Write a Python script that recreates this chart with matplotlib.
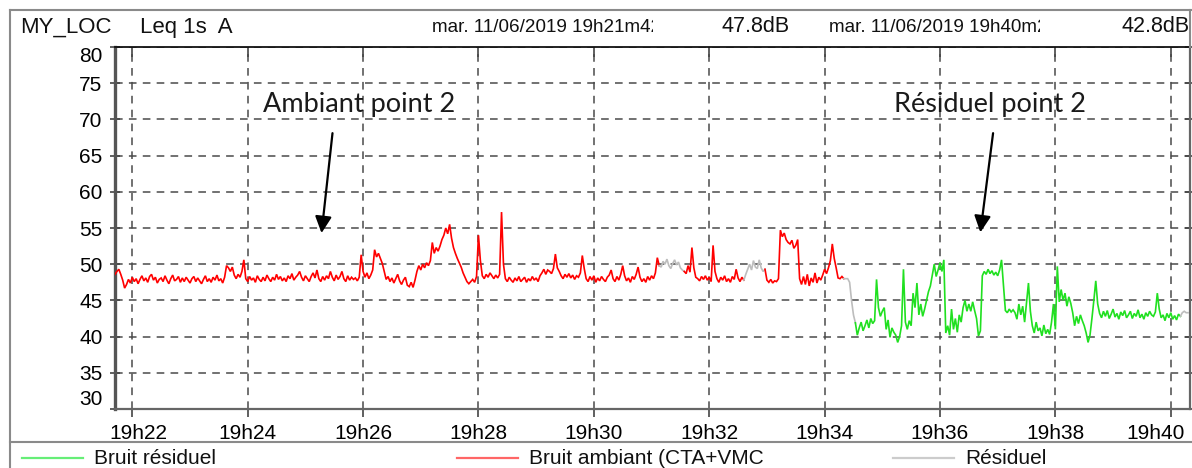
import matplotlib
matplotlib.use("Agg")
import matplotlib.pyplot as plt
from matplotlib.lines import Line2D
from matplotlib.ticker import FixedLocator, FuncFormatter
from matplotlib.transforms import Bbox, TransformedBbox, ScaledTranslation
import numpy as np

# --- data -------------------------------------------------------------
START_MIN = 21 + 42 / 60      # 19h21m42
END_MIN = 40 + 20 / 60        # 19h40m20
STEP_S = 2                    # one value every 2 s

# Leq 1s A (dB), one value every STEP_S seconds from START_MIN
leq = [
    48.6, 49.0, 49.3, 48.6, 47.8, 46.7, 47.2,
    47.9, 47.4, 48.2, 47.6, 48.0, 47.3, 47.9, 48.4, 47.7, 48.1,
    47.5, 48.3, 48.6, 47.8, 48.2, 47.4, 47.9, 48.1, 47.6, 48.4,
    47.8, 47.3, 48.0, 48.5, 47.7, 47.9, 48.3, 47.5, 48.1, 47.6,
    48.2, 47.8, 47.4, 48.0, 48.3, 47.6, 48.1, 47.7, 47.3, 47.9,
    48.4, 47.6, 48.0, 47.5, 48.2, 47.8, 48.5, 47.7, 48.0, 47.4, 48.2,
    49.8, 49.5, 49.0, 49.6,
    48.5, 48.0, 48.6, 48.2, 49.0, 50.6,
    48.0, 47.6, 48.3, 47.8, 48.1, 47.5, 48.4, 47.9, 47.6, 48.2,
    47.7, 48.5, 48.0, 47.6, 48.2, 47.8, 48.6, 47.9, 48.3, 47.7,
    48.1, 47.6, 48.4, 48.0, 48.7, 47.8, 48.2, 48.5,
    49.0,
    48.2, 47.7, 48.4, 48.0, 47.6, 48.3, 48.8, 48.1,
    49.2,
    48.0, 47.6, 48.3, 47.8, 48.4, 48.0,
    49.0,
    48.2, 47.7, 48.5, 47.9, 48.3,
    49.0,
    48.0, 47.6, 48.4, 47.8, 48.2, 47.9, 48.1, 47.7, 48.2,
    51.3, 49.0,
    48.2, 48.8, 48.0, 48.5, 49.2,
    52.0, 51.0, 51.5, 50.8, 50.1, 49.0,
    47.9, 48.3, 47.6, 48.1, 47.4, 48.0, 48.6, 47.7, 47.2, 47.8,
    48.2, 47.1, 46.9, 47.5, 46.8,
    47.8,
    49.0, 49.8, 49.2, 50.0, 49.5, 50.2, 49.8, 50.5,
    53.0, 51.5, 52.3, 51.8, 52.5, 53.4, 54.0, 55.0, 54.2, 55.5,
    53.6, 52.3, 51.5, 50.8, 50.2, 49.6, 48.8, 48.2, 47.6, 47.3,
    47.6, 47.9, 47.5, 48.3, 54.0, 50.5, 48.4,
    48.0, 48.6, 48.2, 48.8, 48.4, 48.0, 48.5, 48.1,
    48.6, 57.2, 50.0, 48.0,
    47.6, 48.2, 47.8, 47.5, 48.1, 47.7, 48.3, 47.6, 47.9, 48.2,
    47.5, 48.0, 47.7, 48.3, 47.8, 48.1, 47.6, 48.4,
    48.8, 49.3, 48.6, 49.2, 49.0, 48.7, 49.4, 51.4, 49.5, 49.0,
    48.4, 48.0, 48.6, 48.2, 48.7, 48.1, 48.5, 47.9, 48.4, 48.2,
    48.8, 51.2, 49.4,
    48.0, 47.6, 48.3, 47.8, 48.4, 47.5, 48.1, 47.7, 48.3, 47.9,
    47.6, 48.2, 48.5, 49.2, 48.0, 47.6, 48.3, 47.8, 48.6, 49.8,
    48.4, 47.7, 48.1, 47.5, 48.3, 47.9, 48.6, 49.6, 48.2, 47.6,
    48.0, 47.5, 48.3, 47.8, 48.4, 48.0, 48.8,
    50.9, 49.8,
    49.6, 50.4, 50.0, 50.7, 49.8, 49.4, 50.1, 50.6, 49.9, 50.3,
    49.5, 49.2, 49.0,
    48.7, 49.8, 48.9, 52.3, 49.5, 48.2,
    48.0, 47.7, 48.3, 47.9, 48.4, 47.8, 48.2, 47.6,
    52.6, 49.0, 48.0,
    47.5, 48.2, 47.8, 48.4, 47.6, 48.0, 47.5, 48.3, 47.9, 49.3,
    48.1, 47.6, 48.2, 47.8,
    48.6, 49.3, 50.0, 49.2, 50.5, 49.6, 49.4, 50.6, 49.5, 49.0, 49.3,
    47.8, 47.5, 47.9, 47.4, 47.7, 47.6, 48.0,
    54.7, 53.8, 54.3, 53.4, 53.0, 52.8, 53.3, 52.2, 52.6, 53.4,
    48.0, 47.2,
    48.3, 47.2, 48.6, 47.0, 48.1, 47.5, 48.8, 47.4, 48.2, 47.8, 48.5,
    49.3, 48.7, 49.5,
    50.5, 52.8, 50.8, 49.5,
    48.1, 48.0, 48.3, 48.0,
    48.0, 48.0, 47.5, 45.0, 43.0, 41.9,
    40.2, 41.2, 42.0, 40.8, 41.5, 42.3, 41.2, 42.5, 41.8, 42.2,
    47.9, 44.0, 42.8, 43.5,
    44.0, 41.0, 42.3, 39.9, 41.2, 40.6, 40.2, 39.2, 40.0,
    41.5, 49.3, 42.0, 41.0, 42.2, 41.5,
    46.0, 44.0, 47.4, 43.0, 44.5, 42.8, 43.8,
    45.0, 46.2, 47.0, 48.5, 50.0, 48.3, 49.2, 50.2, 49.0, 50.6, 40.5,
    41.5, 40.2, 43.8, 41.0, 42.5, 40.6, 43.0, 42.0,
    44.0, 45.0, 43.5, 44.5, 43.5, 44.8, 43.6,
    42.5, 40.1, 40.8,
    48.4, 49.0, 48.6, 49.3, 48.7, 49.1, 48.5, 48.9, 48.4,
    49.2, 50.6, 47.0,
    43.6, 43.3, 43.8, 43.4, 43.7, 43.3,
    42.4, 44.5, 43.0, 44.2, 42.0, 44.7, 47.4, 43.5,
    41.5, 40.5, 42.0, 40.8, 41.2, 40.1, 41.6, 40.4, 41.0, 40.3,
    42.0, 44.5, 41.0, 49.7,
    44.8, 46.5, 45.0, 46.0, 44.2, 45.5, 44.6,
    43.3, 41.5, 42.8, 41.8, 43.0, 42.2,
    41.5, 40.5, 39.2, 40.2,
    42.5, 45.0, 47.7, 44.5,
    43.2, 42.6, 43.5, 42.8, 43.6, 42.5, 43.1, 43.8, 42.7, 43.2,
    42.4, 43.4, 42.9, 43.6, 42.6, 43.0, 43.5, 42.5, 43.2, 42.8,
    43.7, 42.6, 43.1, 42.4, 43.3, 42.8, 43.5,
    43.0, 42.8, 43.4,
    46.0, 43.8,
    42.6, 43.0, 42.2, 43.2, 42.6, 43.3, 42.4, 42.9, 42.3, 43.1, 42.8,
    43.3, 43.5, 43.3, 43.3,
]

# coding of the record: (series, first index, last index)
segments = [
    ("ambiant", 0, 283), ("residuel_gris", 283, 296),
    ("ambiant", 296, 327), ("residuel_gris", 327, 338),
    ("ambiant", 338, 379), ("residuel_gris", 379, 385),
    ("residuel", 385, 554), ("residuel_gris", 554, 558),
]

series_labels = {
    "residuel": "Bruit résiduel",
    "ambiant": "Bruit ambiant (CTA+VMC",
    "residuel_gris": "Résiduel",
}
series_colors = {"residuel": "#20e020", "ambiant": "#ff0000", "residuel_gris": "#bdbdbd"}
legend_colors = {"residuel": "#66ee77", "ambiant": "#ff6666", "residuel_gris": "#cccccc"}

y_ticks = [30, 35, 40, 45, 50, 55, 60, 65, 70, 75, 80]
x_ticks = [22, 24, 26, 28, 30, 32, 34, 36, 38, 40]   # minutes after 19h00

header_site = "MY_LOC"
header_index = "Leq 1s  A"
start_stamp = "mar. 11/06/2019 19h21m42"
start_value = "47.8dB"
end_stamp = "mar. 11/06/2019 19h40m20"
end_value = "42.8dB"

# --- figure -----------------------------------------------------------
W, H = 1192, 468
plt.rcParams["font.family"] = ["Liberation Sans", "DejaVu Sans"]
plt.rcParams["lines.scale_dashes"] = False

fig = plt.figure(figsize=(W / 100, H / 100), dpi=100)
fig.patch.set_facecolor("white")


def fx(px):
    return px / W


def fy(py):
    return 1 - py / H


ax = fig.add_axes([fx(115), fy(409), fx(1190) - fx(115), fy(47) - fy(409)])

t = START_MIN + np.arange(len(leq)) * STEP_S / 60.0
v = np.asarray(leq)
for name, a, b in segments:
    ax.plot(t[a:b + 1], v[a:b + 1], color=series_colors[name], lw=1.2,
            solid_joinstyle="miter", zorder=3)

ax.set_xlim(START_MIN, END_MIN)
ax.set_ylim(30, 80)

ax.xaxis.set_major_locator(FixedLocator(x_ticks))
ax.xaxis.set_major_formatter(FuncFormatter(lambda m, _: f"19h{int(round(m)):02d}"))
ax.yaxis.set_major_locator(FixedLocator(y_ticks))
ax.yaxis.set_major_formatter(FuncFormatter(lambda d, _: f"{int(d)}"))

ax.grid(True, color="#4a4a4a", lw=1.1, linestyle=(0, (5.5, 4.5)), zorder=1)

ax.tick_params(axis="y", which="major", direction="inout", length=7, width=1.2,
               color="#444444", labelsize=15, pad=5.5, right=True, labelright=False)
ax.tick_params(axis="x", which="major", direction="out", length=6, width=1.2,
               color="#444444", labelsize=15, pad=5, top=True)
for tk in ax.xaxis.get_major_ticks():
    tk.tick2line.set_marker(3)   # top ticks point into the plot
    tk.tick2line.set_markersize(7)

fig.canvas.draw()
ylabels = ax.get_yticklabels()
ylabels[0].set_va("bottom")
ylabels[-1].set_va("top")

# end labels of the time axis are pulled inside the plot width
xlabels = ax.get_xticklabels()
xlabels[0].set_transform(xlabels[0].get_transform()
                         + ScaledTranslation(6 / 100, 0, fig.dpi_scale_trans))
xlabels[-1].set_transform(xlabels[-1].get_transform()
                          + ScaledTranslation(-15 / 100, 0, fig.dpi_scale_trans))

ax.spines["left"].set_color("#555555")
ax.spines["left"].set_linewidth(2.4)
ax.spines["bottom"].set_color("#666666")
ax.spines["bottom"].set_linewidth(1.6)
ax.spines["right"].set_color("#666666")
ax.spines["right"].set_linewidth(1.6)
ax.spines["top"].set_color("#111111")
ax.spines["top"].set_linewidth(1.3)

# notes with arrows
note_kw = dict(fontsize=19.5, family=["Lato", "DejaVu Sans"], color="#1a1a1a",
               ha="center", va="center")
ax.annotate("", xy=(25.28, 54.3), xytext=(25.47, 68.1),
            arrowprops=dict(arrowstyle="-|>", color="black", lw=1.6, mutation_scale=25,
                            shrinkA=0, shrinkB=0), zorder=5)
ax.text(25.93, 72.1, "Ambiant point 2", **note_kw, zorder=5)
ax.annotate("", xy=(36.70, 54.4), xytext=(36.92, 68.1),
            arrowprops=dict(arrowstyle="-|>", color="black", lw=1.6, mutation_scale=25,
                            shrinkA=0, shrinkB=0), zorder=5)
ax.text(36.87, 72.0, "Résiduel point 2", **note_kw, zorder=5)

# frame around the record
frame_kw = dict(color="#8a8a8a", lw=1.5, transform=fig.transFigure)
fig.add_artist(Line2D([fx(10), fx(10)], [fy(10), 0], **frame_kw))
fig.add_artist(Line2D([fx(10), 1], [fy(10), fy(10)], **frame_kw))
fig.add_artist(Line2D([fx(1190), fx(1190)], [fy(10), fy(47)], **frame_kw))
fig.add_artist(Line2D([fx(10), 1], [fy(442), fy(442)], **frame_kw))

# header line
hy = fy(27)
hkw = dict(va="center", ha="left", color="#111111")
fig.text(fx(20), hy, header_site, fontsize=16, **hkw)
fig.text(fx(140), hy, header_index, fontsize=16, **hkw)


def clipped_text(x0, x_clip, s):
    txt = fig.text(fx(x0), hy, s, fontsize=13.6, **hkw)
    box = TransformedBbox(Bbox([[fx(x0) - 0.01, fy(45)], [fx(x_clip), fy(12)]]),
                          fig.transFigure)
    txt.set_clip_box(box)
    txt.set_clip_on(True)
    return txt


clipped_text(432, 653, start_stamp)
fig.text(fx(721), hy, start_value, fontsize=15.5, **hkw)
clipped_text(829, 1040, end_stamp)
fig.text(fx(1121), hy, end_value, fontsize=15.5, **hkw)

# legend row
ly = fy(458)
legend_x = {"residuel": 22, "ambiant": 457, "residuel_gris": 893}
for name in ["residuel", "ambiant", "residuel_gris"]:
    x0 = legend_x[name]
    fig.add_artist(Line2D([fx(x0), fx(x0 + 61)], [ly, ly], color=legend_colors[name],
                          lw=1.6, transform=fig.transFigure))
    fig.text(fx(x0 + 72), ly, series_labels[name], fontsize=15, va="center",
             ha="left", color="#111111")

fig.savefig("out.png", dpi=100, facecolor="white")
